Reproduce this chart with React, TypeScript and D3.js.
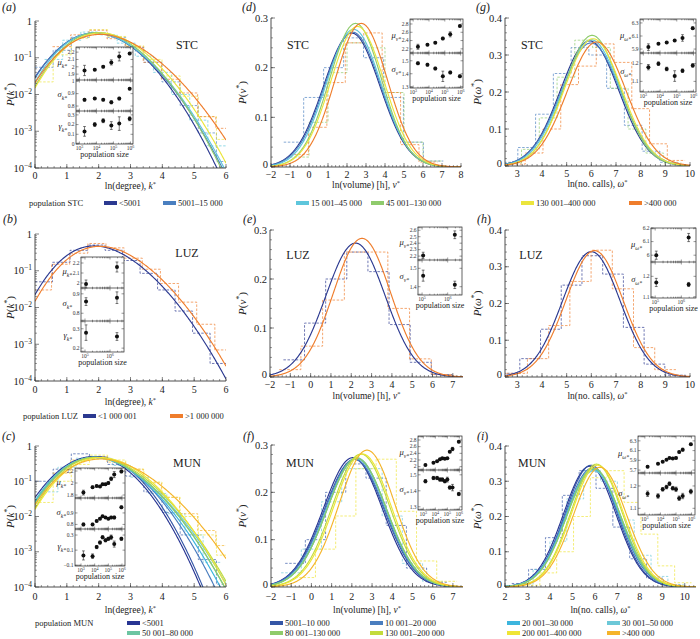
import React from 'react';
import * as d3 from 'd3';

const FONT = "'Liberation Serif', 'Times New Roman', serif";

// ---------- STC: six population classes
const stcLabels = ['<5001', '5001–15 000', '15 001–45 000', '45 001–130 000', '130 001–400 000', '>400 000'];
const stcColors = ['#2b3990', '#4a7fc0', '#5ec6dc', '#8fcb6c', '#ebe53c', '#ef7d2c'];
const stcPop = [2000, 8000, 25000, 75000, 220000, 900000];
const stcMuK = [1.95, 1.96, 2.0, 2.06, 2.14, 2.18];
const stcMuKErr = [0.07, 0.01, 0.015, 0.035, 0.06, 0.015];
const stcSigK = [0.85, 0.86, 0.85, 0.83, 0.86, 0.94];
const stcSigKErr = [0.01, 0.008, 0.008, 0.012, 0.01, 0.008];
const stcGamK = [0.13, 0.2, 0.24, 0.19, 0.21, 0.26];
const stcGamKErr = [0.05, 0.02, 0.02, 0.04, 0.07, 0.02];
const stcMuV = [2.25, 2.3, 2.35, 2.45, 2.55, 2.75];
const stcMuVErr = [0.06, 0.02, 0.02, 0.03, 0.06, 0.02];
const stcSigV = [1.48, 1.47, 1.44, 1.38, 1.41, 1.38];
const stcSigVErr = [0.01, 0.01, 0.01, 0.04, 0.01, 0.01];
const stcMuW = [5.93, 5.98, 6.0, 6.03, 6.07, 6.22];
const stcMuWErr = [0.05, 0.01, 0.01, 0.015, 0.05, 0.02];
const stcSigW = [1.18, 1.2, 1.17, 1.13, 1.16, 1.19];
const stcSigWErr = [0.015, 0.01, 0.01, 0.03, 0.01, 0.01];

// ---------- LUZ: two classes
const luzLabels = ['<1 000 001', '>1 000 000'];
const luzColors = ['#2b3990', '#ef7d2c'];
const luzPop = [110000, 1900000];
const luzMuK = [1.99, 2.16];
const luzMuKErr = [0.04, 0.05];
const luzSigK = [0.86, 0.88];
const luzSigKErr = [0.02, 0.03];
const luzGamK = [0.28, 0.26];
const luzGamKErr = [0.04, 0.02];
const luzMuV = [2.21, 2.53];
const luzMuVErr = [0.05, 0.06];
const luzSigV = [1.46, 1.41];
const luzSigVErr = [0.03, 0.02];
const luzMuW = [6.0, 6.13];
const luzMuWErr = [0.03, 0.03];
const luzSigW = [1.17, 1.16];
const luzSigWErr = [0.02, 0.01];

// ---------- MUN: ten classes
const munLabels = ['<5001', '5001–10 000', '10 001–20 000', '20 001–30 000', '30 001–50 000',
  '50 001–80 000', '80 001–130 000', '130 001–200 000', '200 001–400 000', '>400 000'];
const munColors = ['#283593', '#3556a6', '#4a7ebf', '#3db5de', '#6cc8d8', '#6cc5a2', '#8fcb6a', '#c3db3c', '#efe535', '#f5b42a'];
const munPop = [1500, 7000, 14000, 24500, 38000, 62000, 100000, 160000, 270000, 900000];
const munMuK = [1.84, 1.93, 1.95, 1.94, 1.98, 1.98, 2.0, 2.07, 2.14, 2.19];
const munMuKErr = [0.04, 0.02, 0.015, 0.015, 0.015, 0.015, 0.02, 0.03, 0.05, 0.02];
const munSigK = [0.8, 0.8, 0.83, 0.85, 0.87, 0.86, 0.85, 0.86, 0.86, 0.95];
const munSigKErr = [0.012, 0.01, 0.008, 0.008, 0.008, 0.008, 0.008, 0.01, 0.012, 0.01];
const munGamK = [0.03, 0.02, 0.14, 0.2, 0.27, 0.23, 0.25, 0.27, 0.18, 0.25];
const munGamKErr = [0.06, 0.03, 0.02, 0.02, 0.02, 0.02, 0.02, 0.03, 0.04, 0.02];
const munMuV = [2.05, 2.12, 2.16, 2.22, 2.25, 2.24, 2.25, 2.45, 2.53, 2.75];
const munMuVErr = [0.02, 0.01, 0.01, 0.01, 0.01, 0.01, 0.02, 0.03, 0.05, 0.03];
const munSigV = [1.46, 1.48, 1.48, 1.47, 1.47, 1.46, 1.47, 1.42, 1.42, 1.38];
const munSigVErr = [0.01, 0.01, 0.01, 0.01, 0.01, 0.01, 0.015, 0.01, 0.02, 0.01];
const munMuW = [5.77, 5.83, 5.87, 5.91, 5.95, 5.94, 5.95, 6.07, 6.12, 6.23];
const munMuWErr = [0.02, 0.01, 0.01, 0.01, 0.01, 0.01, 0.02, 0.02, 0.03, 0.02];
const munSigW = [1.165, 1.155, 1.185, 1.195, 1.21, 1.19, 1.185, 1.145, 1.155, 1.175];
const munSigWErr = [0.012, 0.01, 0.008, 0.008, 0.008, 0.008, 0.01, 0.01, 0.012, 0.01];

// ---------- dashed empirical histograms: series index, first bin edge, bin width, heights
const stcHistK = [
  { s: 1, x0: 0, w: 0.57, h: [0.055, 0.16, 0.36, 0.47, 0.36, 0.19, 0.075, 0.022, 0.005, 0.0009, 0.00015] },
  { s: 2, x0: 0.3, w: 0.57, h: [0.09, 0.3, 0.5, 0.42, 0.25, 0.11, 0.04, 0.01, 0.002, 0.0004] },
  { s: 4, x0: 0, w: 0.57, h: [0.022, 0.12, 0.34, 0.58, 0.38, 0.21, 0.09, 0.032, 0.009, 0.0025, 0.0006] },
  { s: 5, x0: 0.55, w: 0.57, h: [0.2, 0.42, 0.56, 0.33, 0.2, 0.075, 0.026, 0.011, 0.0025, 0.0012] },
];
const stcHistV = [
  { s: 1, x0: -1.33, w: 1.05, h: [0.05, 0.14, 0.2, 0.26, 0.22, 0.14, 0.05, 0.012] },
  { s: 3, x0: -1.0, w: 1.0, h: [0.02, 0.09, 0.19, 0.25, 0.24, 0.15, 0.05, 0.012] },
  { s: 5, x0: -1.0, w: 0.97, h: [0.025, 0.08, 0.17, 0.25, 0.27, 0.15, 0.045, 0.01] },
];
const stcHistW = [
  { s: 1, x0: 2.3, w: 0.72, h: [0.01, 0.05, 0.14, 0.25, 0.32, 0.3, 0.21, 0.11, 0.04, 0.01] },
  { s: 3, x0: 2.45, w: 0.72, h: [0.008, 0.045, 0.13, 0.24, 0.34, 0.32, 0.21, 0.1, 0.035, 0.008] },
  { s: 5, x0: 2.6, w: 0.72, h: [0.005, 0.035, 0.1, 0.22, 0.27, 0.33, 0.28, 0.155, 0.06, 0.015] },
];
const luzHistK = [
  { s: 0, x0: 0, w: 0.55, h: [0.05, 0.17, 0.36, 0.5, 0.36, 0.19, 0.085, 0.03, 0.008, 0.002, 0.0003] },
  { s: 1, x0: -0.05, w: 0.57, h: [0.03, 0.15, 0.3, 0.55, 0.42, 0.22, 0.11, 0.045, 0.014, 0.0035, 0.0007] },
];
const luzHistV = [
  { s: 0, x0: -1.34, w: 1.04, h: [0.035, 0.11, 0.2, 0.255, 0.215, 0.107, 0.03, 0.005] },
  { s: 1, x0: -1.55, w: 1.07, h: [0.015, 0.063, 0.157, 0.255, 0.255, 0.14, 0.037, 0.005] },
];
const luzHistW = [
  { s: 0, x0: 2.26, w: 0.84, h: [0.01, 0.05, 0.13, 0.25, 0.33, 0.28, 0.135, 0.035, 0.005] },
  { s: 1, x0: 2.55, w: 0.86, h: [0.01, 0.05, 0.14, 0.26, 0.345, 0.24, 0.08, 0.02] },
];
const munHistK = [
  { s: 1, x0: 0, w: 0.57, h: [0.1, 0.22, 0.6, 0.5, 0.3, 0.14, 0.05, 0.013, 0.003, 0.0006, 0.00012] },
  { s: 4, x0: 0.15, w: 0.57, h: [0.05, 0.25, 0.45, 0.45, 0.28, 0.13, 0.045, 0.012, 0.003, 0.0005] },
  { s: 8, x0: 0, w: 0.57, h: [0.025, 0.1, 0.3, 0.55, 0.4, 0.22, 0.095, 0.035, 0.01, 0.003, 0.0008] },
  { s: 9, x0: 0.55, w: 0.57, h: [0.17, 0.4, 0.5, 0.35, 0.22, 0.09, 0.035, 0.012, 0.004, 0.0015] },
];
const munHistV = [
  { s: 1, x0: -1.3, w: 1.0, h: [0.05, 0.1, 0.2, 0.26, 0.23, 0.13, 0.04, 0.01] },
  { s: 4, x0: -1.5, w: 1.0, h: [0.03, 0.08, 0.18, 0.25, 0.25, 0.15, 0.05, 0.012] },
  { s: 8, x0: -0.8, w: 1.0, h: [0.02, 0.08, 0.15, 0.25, 0.27, 0.16, 0.055, 0.012] },
];
const munHistW = [
  { s: 1, x0: 2.3, w: 0.75, h: [0.01, 0.05, 0.14, 0.26, 0.33, 0.28, 0.17, 0.08, 0.025, 0.006] },
  { s: 4, x0: 2.5, w: 0.75, h: [0.008, 0.05, 0.13, 0.25, 0.33, 0.3, 0.19, 0.09, 0.03, 0.006] },
  { s: 8, x0: 2.8, w: 0.75, h: [0.005, 0.04, 0.1, 0.2, 0.31, 0.33, 0.24, 0.15, 0.06, 0.012] },
];

// ---------- fitted densities
function erf(x: number) {
  const s = Math.sign(x);
  const a = Math.abs(x);
  const t = 1 / (1 + 0.3275911 * a);
  const y = 1 - ((((1.061405429 * t - 1.453152027) * t + 1.421413741) * t - 0.284496736) * t + 0.254829592) * t * Math.exp(-a * a);
  return s * y;
}
const Phi = (z: number) => 0.5 * (1 + erf(z / Math.SQRT2));
const normalPdf = (mu: number, sd: number) => (x: number) =>
  Math.exp(-0.5 * ((x - mu) / sd) ** 2) / (sd * Math.sqrt(2 * Math.PI));
// skew-normal from mean, sd and skewness
function skewNormalPdf(mu: number, sd: number, g: number) {
  const r = Math.cbrt(g / ((4 - Math.PI) / 2));
  let b = r / Math.sqrt(1 + r * r);
  const delta = Math.max(-0.99, Math.min(0.99, b / Math.sqrt(2 / Math.PI)));
  b = delta * Math.sqrt(2 / Math.PI);
  const alpha = delta / Math.sqrt(1 - delta * delta);
  const omega = sd / Math.sqrt(1 - b * b);
  const xi = mu - omega * b;
  return (x: number) => {
    const z = (x - xi) / omega;
    return (2 / omega) * (Math.exp(-z * z / 2) / Math.sqrt(2 * Math.PI)) * Phi(alpha * z);
  };
}

const minus = (v: number) => (v < 0 ? '−' + Math.abs(v) : String(v));
const Star = () => <tspan baselineShift="super" fontSize="70%">*</tspan>;

type Box = { x0: number; x1: number; y0: number; y1: number };

function Inset({ box, splits, rows, pops, popDomain, popTicks }: any) {
  const sx = d3.scaleLog().domain(popDomain).range([box.x0, box.x1]);
  const lo = Math.floor(Math.log10(popDomain[0]));
  const hi = Math.ceil(Math.log10(popDomain[1]));
  const minor: number[] = [];
  for (let e = lo; e < hi; e++) for (let m = 1; m < 10; m++) {
    const v = m * 10 ** e;
    if (v >= popDomain[0] && v <= popDomain[1]) minor.push(v);
  }
  const bottom = splits[splits.length - 1];
  return (
    <g>
      <rect x={box.x0} y={splits[0]} width={box.x1 - box.x0} height={bottom - splits[0]} fill="#fff" stroke="#222" strokeWidth={0.7} />
      {rows.map((r: any, i: number) => {
        const top = splits[i], bot = splits[i + 1];
        const sy = d3.scaleLinear().domain(r.domain).range([bot, top]);
        return (
          <g key={i}>
            {i > 0 && <line x1={box.x0} x2={box.x1} y1={top} y2={top} stroke="#222" strokeWidth={0.7} />}
            {minor.map((v, j) => {
              const len = Math.abs(Math.log10(v) % 1) < 1e-9 ? 2.5 : 1.3;
              return (
                <g key={j} stroke="#333" strokeWidth={0.5}>
                  <line x1={sx(v)} x2={sx(v)} y1={top} y2={top + len} />
                  <line x1={sx(v)} x2={sx(v)} y1={bot} y2={bot - len} />
                </g>
              );
            })}
            {r.ticks.map((t: number) => (
              <g key={t}>
                <line x1={box.x0} x2={box.x0 + 2.5} y1={sy(t)} y2={sy(t)} stroke="#333" strokeWidth={0.5} />
                <line x1={box.x1} x2={box.x1 - 2.5} y1={sy(t)} y2={sy(t)} stroke="#333" strokeWidth={0.5} />
                <text x={box.x0 - 1.5} y={sy(t)} dy="0.33em" fontSize={5.5} textAnchor="end" fill="#333">{minus(+t.toFixed(1))}</text>
              </g>
            ))}
            <text x={box.x0 - 9} y={(top + bot) / 2} dy="0.2em" fontSize={8.5} textAnchor="end" fill="#222">
              <tspan fontStyle="italic">{r.sym}</tspan>
              <tspan baselineShift="sub" fontSize={5.5} fontStyle="italic">{r.sub}*</tspan>
            </text>
            {r.values.map((v: number, j: number) => {
              const cx = sx(pops[j]);
              const e = r.errs[j];
              return (
                <g key={j}>
                  <line x1={cx} x2={cx} y1={sy(v - e)} y2={sy(v + e)} stroke="#222" strokeWidth={0.6} />
                  <line x1={cx - 1.4} x2={cx + 1.4} y1={sy(v - e)} y2={sy(v - e)} stroke="#222" strokeWidth={0.6} />
                  <line x1={cx - 1.4} x2={cx + 1.4} y1={sy(v + e)} y2={sy(v + e)} stroke="#222" strokeWidth={0.6} />
                  <circle cx={cx} cy={sy(v)} r={2} fill="#111" />
                </g>
              );
            })}
          </g>
        );
      })}
      {popTicks.map((e: number) => (
        <text key={e} x={sx(10 ** e)} y={bottom + 6} fontSize={5.5} textAnchor="middle" fill="#333">
          10<tspan baselineShift="super" fontSize={4}>{e}</tspan>
        </text>
      ))}
      <text x={(box.x0 + box.x1) / 2} y={bottom + 13} fontSize={8} textAnchor="middle" fill="#222">population size</text>
    </g>
  );
}

function Panel(p: any) {
  const box: Box = p.box;
  const { xDomain, yDomain, log } = p;
  const sx = d3.scaleLinear().domain(xDomain).range([box.x0, box.x1]);
  const sy: any = log
    ? d3.scaleLog().domain(yDomain).range([box.y1, box.y0])
    : d3.scaleLinear().domain(yDomain).range([box.y1, box.y0]);
  const floor = log ? 1e-7 : 0;
  const line = d3.line<[number, number]>().x(d => sx(d[0])).y(d => sy(Math.max(d[1], floor)));
  const step = d3.line<[number, number]>().x(d => sx(d[0])).y(d => sy(Math.max(d[1], floor))).curve(d3.curveStepAfter);
  const xs = d3.range(xDomain[0], xDomain[1] + 1e-9, 0.02);
  const clipId = `clip-${p.id}`;

  const xMinor = d3.range(Math.ceil(xDomain[0] / p.xMinor) * p.xMinor, xDomain[1] + 1e-9, p.xMinor);
  const yMinor: number[] = [];
  if (log) {
    for (let e = -4; e < 0; e++) for (let m = 2; m < 10; m++) yMinor.push(m * 10 ** e);
  } else {
    d3.range(0, yDomain[1] + 1e-9, p.yMinor).forEach(v => yMinor.push(v));
  }
  const midX = (box.x0 + box.x1) / 2;
  const midY = (box.y0 + box.y1) / 2;

  return (
    <g>
      <defs>
        <clipPath id={clipId}>
          <rect x={box.x0} y={box.y0 - 2} width={box.x1 - box.x0} height={box.y1 - box.y0 + 2} />
        </clipPath>
      </defs>
      <text x={p.letter[1]} y={p.letter[2]} fontSize={12} fontStyle="italic" fill="#222">({p.letter[0]}<tspan fontStyle="normal">)</tspan></text>
      <g clipPath={`url(#${clipId})`}>
        {p.hists.map((h: any, i: number) => {
          const pts: [number, number][] = h.h.map((v: number, j: number) => [h.x0 + j * h.w, v]);
          pts.push([h.x0 + h.h.length * h.w, h.h[h.h.length - 1]]);
          return <path key={i} d={step(pts) || ''} fill="none" stroke={p.colors[h.s]} strokeWidth={0.8} strokeDasharray="2.5,1.6" opacity={0.85} />;
        })}
        {p.pdfs.map((f: any, i: number) => (
          <path key={i} d={line(xs.map(x => [x, f(x)] as [number, number])) || ''} fill="none" stroke={p.colors[i]} strokeWidth={1.15} />
        ))}
      </g>
      {/* axes */}
      <line x1={box.x0} x2={box.x0} y1={box.y0} y2={box.y1} stroke="#222" strokeWidth={0.8} />
      <line x1={box.x0} x2={box.x1} y1={box.y1} y2={box.y1} stroke="#222" strokeWidth={0.8} />
      {xMinor.map((v, i) => (
        <line key={i} x1={sx(v)} x2={sx(v)} y1={box.y1} y2={box.y1 - 2} stroke="#333" strokeWidth={0.5} />
      ))}
      {p.xTicks.map((v: number) => (
        <g key={v}>
          <line x1={sx(v)} x2={sx(v)} y1={box.y1} y2={box.y1 - 4} stroke="#333" strokeWidth={0.6} />
          <text x={sx(v)} y={box.y1 + p.tickDy} fontSize={10} textAnchor="middle" fill="#222">{minus(v)}</text>
        </g>
      ))}
      {yMinor.map((v, i) => (
        <line key={i} x1={box.x0} x2={box.x0 + 2} y1={sy(v)} y2={sy(v)} stroke="#333" strokeWidth={0.5} />
      ))}
      {p.yTicks.map((v: number) => (
        <g key={v}>
          <line x1={box.x0} x2={box.x0 + 4} y1={sy(v)} y2={sy(v)} stroke="#333" strokeWidth={0.6} />
          <text x={box.x0 - 3} y={sy(v) - (!log && v === 0 ? 3 : 0)} dy="0.35em" fontSize={10.5} textAnchor="end" fill="#222">
            {log ? (v === 1 ? '1' : <>10<tspan baselineShift="super" fontSize={7.5}>{'−' + Math.round(-Math.log10(v))}</tspan></>)
              : (v === 0 ? '0' : v.toFixed(1))}
          </text>
        </g>
      ))}
      <text x={midX} y={box.y1 + p.titleDy} fontSize={9.5} textAnchor="middle" fill="#222">
        {p.xTitle}<tspan fontStyle="italic">{p.sym}</tspan><Star />
      </text>
      <text transform={`translate(${p.yTitleX},${midY}) rotate(-90)`} fontSize={11} textAnchor="middle" fill="#222">
        <tspan fontStyle="italic">P</tspan>(<tspan fontStyle="italic">{p.sym}</tspan><Star />)
      </text>
      <text x={p.tag[1]} y={p.tag[2]} fontSize={12} textAnchor="middle" fill="#222">{p.tag[0]}</text>
      <Inset {...p.inset} />
    </g>
  );
}

function Legend({ title, titleX, rows, labels, colors, xs }: any) {
  return (
    <g fontSize={8.5} fill="#222">
      <text x={titleX} y={rows[0]} dy="0.35em">{title}</text>
      {labels.map((l: string, i: number) => {
        const x = xs[i % xs.length];
        const y = rows[Math.floor(i / xs.length)];
        return (
          <g key={i}>
            <rect x={x} y={y - 2} width={13} height={4} fill={colors[i]} />
            <text x={x + 15} y={y} dy="0.35em">{l}</text>
          </g>
        );
      })}
    </g>
  );
}

const degTicks = [0, 1, 2, 3, 4, 5, 6];
const logTicks = [1e-4, 1e-3, 1e-2, 1e-1, 1];
const volTicks = [-2, -1, 0, 1, 2, 3, 4, 5, 6, 7, 8];
const volTicks2 = [-2, -1, 0, 1, 2, 3, 4, 5, 6, 7];
const callTicks = [3, 4, 5, 6, 7, 8, 9, 10];
const callTicks2 = [2, 3, 4, 5, 6, 7, 8, 9, 10];
const pTicks3 = [0, 0.1, 0.2, 0.3];
const pTicks4 = [0, 0.1, 0.2, 0.3, 0.4];

const STC_DOM = [10 ** 2.8, 10 ** 6.15];
const LUZ_DOM = [10 ** 4.84, 10 ** 6.56];
const MUN_DOM = [10 ** 2.56, 10 ** 6.22];

export default function App() {
  const degCommon = { xDomain: [0, 6], yDomain: [1e-4, 1], log: true, xTicks: degTicks, xMinor: 0.2, yTicks: logTicks, xTitle: 'ln(degree), ', sym: 'k', yTitleX: 14 };
  const volCommon = { yDomain: [0, 0.3], log: false, xMinor: 0.2, yMinor: 0.02, yTicks: pTicks3, xTitle: 'ln(volume) [h], ', sym: 'v', yTitleX: 246 };
  const callCommon = { yDomain: [0, 0.4], log: false, xMinor: 0.2, yMinor: 0.02, yTicks: pTicks4, xTitle: 'ln(no. calls), ', sym: 'ω', yTitleX: 481 };

  return (
    <svg width={700} height={639} viewBox="0 0 700 639" fontFamily={FONT}
      style={{ position: 'absolute', left: 0, top: 0, background: '#fff' }}>
      {/* row 1: STC */}
      <Panel id="a" {...degCommon} box={{ x0: 35, x1: 226, y0: 21, y1: 168 }} tickDy={11} titleDy={21}
        letter={['a', 2, 11]} tag={['STC', 187, 49]} colors={stcColors} hists={stcHistK}
        pdfs={stcMuK.map((m, i) => skewNormalPdf(m, stcSigK[i], stcGamK[i]))}
        inset={{ box: { x0: 76, x1: 133 }, splits: [47, 80, 111, 144], pops: stcPop, popDomain: STC_DOM, popTicks: [3, 4, 5, 6],
          rows: [
            { sym: 'μ', sub: 'k', domain: [1.82, 2.27], ticks: [1.9, 2.0, 2.1, 2.2], values: stcMuK, errs: stcMuKErr },
            { sym: 'σ', sub: 'k', domain: [0.76, 1.01], ticks: [0.8, 0.9, 1.0], values: stcSigK, errs: stcSigKErr },
            { sym: 'γ', sub: 'k', domain: [0, 0.34], ticks: [0, 0.1, 0.2, 0.3], values: stcGamK, errs: stcGamKErr },
          ] }} />
      <Panel id="d" {...volCommon} xDomain={[-2, 8]} xTicks={volTicks} box={{ x0: 271, x1: 461, y0: 18, y1: 167 }} tickDy={11} titleDy={21}
        letter={['d', 242, 11]} tag={['STC', 298, 49]} colors={stcColors} hists={stcHistV}
        pdfs={stcMuV.map((m, i) => normalPdf(m, stcSigV[i]))}
        inset={{ box: { x0: 410, x1: 463 }, splits: [19, 53, 88], pops: stcPop, popDomain: STC_DOM, popTicks: [3, 4, 5, 6],
          rows: [
            { sym: 'μ', sub: 'v', domain: [2.1, 2.92], ticks: [2.2, 2.4, 2.6, 2.8], values: stcMuV, errs: stcMuVErr },
            { sym: 'σ', sub: 'v', domain: [1.29, 1.56], ticks: [1.3, 1.4, 1.5], values: stcSigV, errs: stcSigVErr },
          ] }} />
      <Panel id="g" {...callCommon} xDomain={[2.5, 10]} xTicks={callTicks} box={{ x0: 505, x1: 690, y0: 18, y1: 166 }} tickDy={11} titleDy={21}
        letter={['g', 476, 11]} tag={['STC', 532, 49]} colors={stcColors} hists={stcHistW}
        pdfs={stcMuW.map((m, i) => normalPdf(m, stcSigW[i]))}
        inset={{ box: { x0: 640, x1: 696 }, splits: [19, 53, 92], pops: stcPop, popDomain: STC_DOM, popTicks: [3, 4, 5, 6],
          rows: [
            { sym: 'μ', sub: 'ω', domain: [5.84, 6.36], ticks: [5.9, 6.1, 6.3], values: stcMuW, errs: stcMuWErr },
            { sym: 'σ', sub: 'ω', domain: [1.04, 1.26], ticks: [1.1, 1.2], values: stcSigW, errs: stcSigWErr },
          ] }} />
      <Legend title="population STC" titleX={29} rows={[203]} labels={stcLabels} colors={stcColors} xs={[104, 163, 296, 371, 521, 629]} />

      {/* row 2: LUZ */}
      <Panel id="b" {...degCommon} box={{ x0: 35, x1: 226, y0: 234, y1: 381 }} tickDy={12} titleDy={24}
        letter={['b', 3, 223]} tag={['LUZ', 187, 257]} colors={luzColors} hists={luzHistK}
        pdfs={luzMuK.map((m, i) => skewNormalPdf(m, luzSigK[i], luzGamK[i]))}
        inset={{ box: { x0: 81, x1: 124 }, splits: [257, 288, 321, 352], pops: luzPop, popDomain: LUZ_DOM, popTicks: [5, 6],
          rows: [
            { sym: 'μ', sub: 'k', domain: [1.95, 2.26], ticks: [2.0, 2.1, 2.2], values: luzMuK, errs: luzMuKErr },
            { sym: 'σ', sub: 'k', domain: [0.76, 0.93], ticks: [0.8, 0.9], values: luzSigK, errs: luzSigKErr },
            { sym: 'γ', sub: 'k', domain: [0.18, 0.34], ticks: [0.2, 0.3], values: luzGamK, errs: luzGamKErr },
          ] }} />
      <Panel id="e" {...volCommon} xDomain={[-2, 7.5]} xTicks={volTicks2} box={{ x0: 270, x1: 463, y0: 230, y1: 377 }} tickDy={11} titleDy={22}
        letter={['e', 243, 223]} tag={['LUZ', 298, 259]} colors={luzColors} hists={luzHistV}
        pdfs={luzMuV.map((m, i) => normalPdf(m, luzSigV[i]))}
        inset={{ box: { x0: 418, x1: 462 }, splits: [227, 260, 295], pops: luzPop, popDomain: LUZ_DOM, popTicks: [5, 6],
          rows: [
            { sym: 'μ', sub: 'v', domain: [2.14, 2.65], ticks: [2.2, 2.3, 2.4, 2.5, 2.6], values: luzMuV, errs: luzMuVErr },
            { sym: 'σ', sub: 'v', domain: [1.355, 1.545], ticks: [1.4, 1.5], values: luzSigV, errs: luzSigVErr },
          ] }} />
      <Panel id="h" {...callCommon} xDomain={[2.5, 10]} xTicks={callTicks} box={{ x0: 505, x1: 690, y0: 230, y1: 377 }} tickDy={11} titleDy={22}
        letter={['h', 477, 223]} tag={['LUZ', 531, 259]} colors={luzColors} hists={luzHistW}
        pdfs={luzMuW.map((m, i) => normalPdf(m, luzSigW[i]))}
        inset={{ box: { x0: 651, x1: 696 }, splits: [228, 262, 298], pops: luzPop, popDomain: LUZ_DOM, popTicks: [5, 6],
          rows: [
            { sym: 'μ', sub: 'ω', domain: [5.95, 6.2], ticks: [6.0, 6.1, 6.2], values: luzMuW, errs: luzMuWErr },
            { sym: 'σ', sub: 'ω', domain: [1.094, 1.27], ticks: [1.1, 1.2], values: luzSigW, errs: luzSigWErr },
          ] }} />
      <Legend title="population LUZ" titleX={23} rows={[416]} labels={luzLabels} colors={luzColors} xs={[83, 170]} />

      {/* row 3: MUN */}
      <Panel id="c" {...degCommon} box={{ x0: 35, x1: 226, y0: 446, y1: 587 }} tickDy={13} titleDy={26}
        letter={['c', 2, 440]} tag={['MUN', 187, 467]} colors={munColors} hists={munHistK}
        pdfs={munMuK.map((m, i) => skewNormalPdf(m, munSigK[i], munGamK[i]))}
        inset={{ box: { x0: 75, x1: 125 }, splits: [468, 498, 529, 566], pops: munPop, popDomain: MUN_DOM, popTicks: [3, 4, 5, 6],
          rows: [
            { sym: 'μ', sub: 'k', domain: [1.75, 2.25], ticks: [1.8, 2.0, 2.2], values: munMuK, errs: munMuKErr },
            { sym: 'σ', sub: 'k', domain: [0.76, 1.03], ticks: [0.8, 0.9], values: munSigK, errs: munSigKErr },
            { sym: 'γ', sub: 'k', domain: [-0.11, 0.38], ticks: [-0.1, 0.1, 0.3], values: munGamK, errs: munGamKErr },
          ] }} />
      <Panel id="f" {...volCommon} xDomain={[-2, 7.5]} xTicks={volTicks2} box={{ x0: 271, x1: 463, y0: 445, y1: 587 }} tickDy={13} titleDy={26}
        letter={['f', 243, 440]} tag={['MUN', 300, 467]} colors={munColors} hists={munHistV}
        pdfs={munMuV.map((m, i) => normalPdf(m, munSigV[i]))}
        inset={{ box: { x0: 418, x1: 462 }, splits: [436, 470, 510], pops: munPop, popDomain: MUN_DOM, popTicks: [3, 4, 5, 6],
          rows: [
            { sym: 'μ', sub: 'v', domain: [1.9, 2.92], ticks: [2.0, 2.2, 2.4, 2.6, 2.8], values: munMuV, errs: munMuVErr },
            { sym: 'σ', sub: 'v', domain: [1.28, 1.53], ticks: [1.3, 1.4, 1.5], values: munSigV, errs: munSigVErr },
          ] }} />
      <Panel id="i" {...callCommon} xDomain={[2, 10.5]} xTicks={callTicks2} box={{ x0: 505, x1: 696, y0: 446, y1: 587 }} tickDy={13} titleDy={26}
        letter={['i', 477, 440]} tag={['MUN', 532, 467]} colors={munColors} hists={munHistW}
        pdfs={munMuW.map((m, i) => normalPdf(m, munSigW[i]))}
        inset={{ box: { x0: 638, x1: 695 }, splits: [436, 473, 515], pops: munPop, popDomain: MUN_DOM, popTicks: [3, 4, 5, 6],
          rows: [
            { sym: 'μ', sub: 'ω', domain: [5.64, 6.4], ticks: [5.7, 5.9, 6.1, 6.3], values: munMuW, errs: munMuWErr },
            { sym: 'σ', sub: 'ω', domain: [1.07, 1.258], ticks: [1.1, 1.2], values: munSigW, errs: munSigWErr },
          ] }} />
      <Legend title="population MUN" titleX={35} rows={[623, 633]} labels={munLabels} colors={munColors} xs={[127, 270, 370, 507, 607]} />
    </svg>
  );
}
